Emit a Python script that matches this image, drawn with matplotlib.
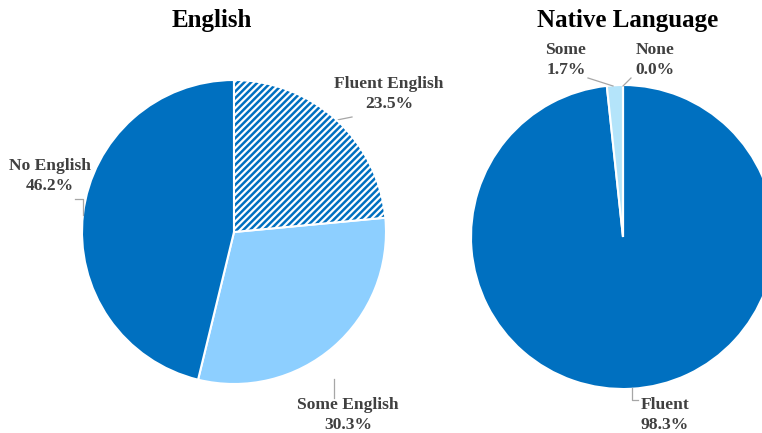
import matplotlib
matplotlib.use("Agg")
import matplotlib.pyplot as plt
from matplotlib.patches import Wedge

plt.rcParams['font.family'] = ['Liberation Serif', 'DejaVu Serif']
plt.rcParams['hatch.linewidth'] = 1.8

# Data
eng_labels = ["Fluent English", "Some English", "No English"]
eng_values = [23.5, 30.3, 46.2]
nat_labels = ["Fluent", "Some", "None"]
nat_values = [98.3, 1.7, 0.0]

DARK = "#0070C0"
LIGHT = "#8DCFFF"
LIGHTER = "#B4E4FA"
TXT = "#404040"
LEAD = "#A6A6A6"

fig = plt.figure(figsize=(7.62, 4.33), dpi=100)
W, H = 762, 433
R = 152


def make_ax(cx, cy, r):
    return fig.add_axes([(cx - r) / W, (H - cy - r) / H, 2 * r / W, 2 * r / H])


def finish_ax(ax):
    ax.set_xlim(-1, 1)
    ax.set_ylim(-1, 1)
    ax.set_aspect('equal')
    ax.axis('off')


def pix(c, px, py):
    return ((px - c[0]) / R, (c[1] - py) / R)


def ann(ax, text, xytext, path):
    ax.plot([p[0] for p in path], [p[1] for p in path], color=LEAD, lw=0.9,
            clip_on=False, zorder=1)
    ax.text(xytext[0], xytext[1], text, ha='center', va='center', fontsize=12.6,
            fontweight='bold', color=TXT, linespacing=1.38, clip_on=False)


# ---- Left pie
c1 = (234, 232)
ax1 = make_ax(c1[0], c1[1], R)
w1, _ = ax1.pie(eng_values, colors=["white", LIGHT, DARK], startangle=90,
                counterclock=False, radius=1,
                wedgeprops=dict(edgecolor="white", linewidth=1.5))
finish_ax(ax1)
hw = w1[0]
ax1.add_patch(Wedge(hw.center, hw.r, hw.theta1, hw.theta2, facecolor="white",
                    edgecolor=DARK, hatch="/////", linewidth=0, zorder=2))
ax1.add_patch(Wedge(hw.center, hw.r, hw.theta1, hw.theta2, fill=False,
                    edgecolor="white", linewidth=1.5, zorder=3))

ann(ax1, eng_labels[0] + "\n%.1f%%" % eng_values[0], pix(c1, 389, 94),
    [pix(c1, 337, 120), pix(c1, 352, 117)])
ann(ax1, eng_labels[1] + "\n%.1f%%" % eng_values[1], pix(c1, 348, 415),
    [pix(c1, 334, 379), pix(c1, 334, 398)])
ann(ax1, eng_labels[2] + "\n%.1f%%" % eng_values[2], pix(c1, 50, 176),
    [pix(c1, 75, 199), pix(c1, 83, 199), pix(c1, 83, 215)])

# ---- Right pie
c2 = (623, 237)
ax2 = make_ax(c2[0], c2[1], R)
w2, _ = ax2.pie(nat_values, colors=[DARK, LIGHTER, LIGHTER], startangle=90,
                counterclock=False, radius=1,
                wedgeprops=dict(edgecolor="white", linewidth=1.5))
finish_ax(ax2)

ann(ax2, nat_labels[1] + "\n%.1f%%" % nat_values[1], pix(c2, 566, 60),
    [pix(c2, 588, 78), pix(c2, 613, 86)])
ann(ax2, nat_labels[2] + "\n%.1f%%" % nat_values[2], pix(c2, 655, 60),
    [pix(c2, 631, 78), pix(c2, 623, 86)])
ann(ax2, nat_labels[0] + "\n%.1f%%" % nat_values[0], pix(c2, 665, 415),
    [pix(c2, 632, 388), pix(c2, 632, 400), pix(c2, 638, 400)])

fig.text(212 / W, 1 - 20 / H, "English", ha='center', va='center',
         fontsize=18, fontweight='bold', color='black')
fig.text(628 / W, 1 - 20 / H, "Native Language", ha='center', va='center',
         fontsize=18, fontweight='bold', color='black')

fig.savefig("out.png", dpi=100)
